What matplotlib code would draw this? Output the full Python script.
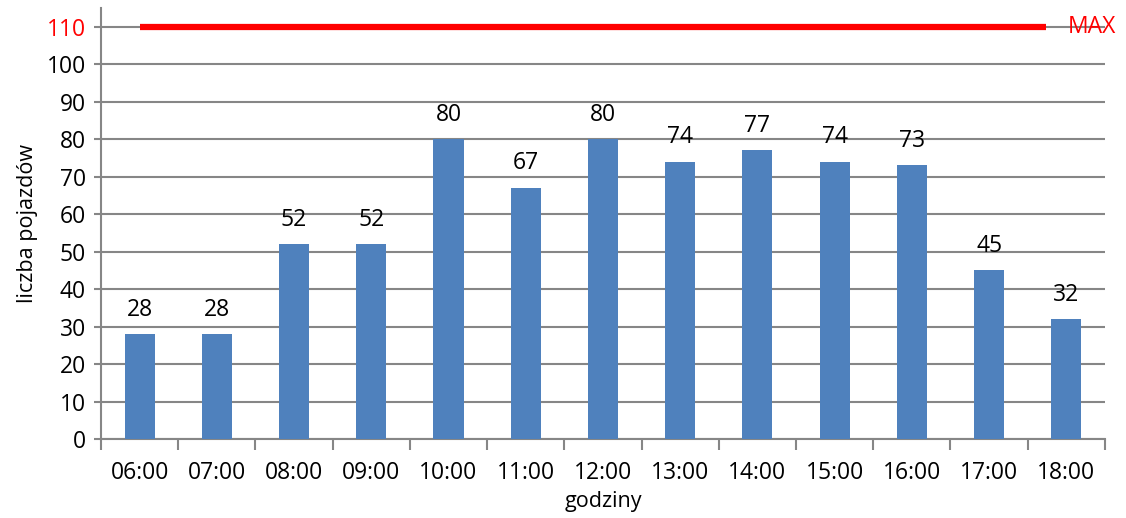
import matplotlib.pyplot as plt
import numpy as np

hours = ['06:00', '07:00', '08:00', '09:00', '10:00', '11:00', '12:00',
         '13:00', '14:00', '15:00', '16:00', '17:00', '18:00']
vehicles = [28, 28, 52, 52, 80, 67, 80, 74, 77, 74, 73, 45, 32]
max_value = 110
y_ticks = [0, 10, 20, 30, 40, 50, 60, 70, 80, 90, 100, 110]

plt.rcParams['font.family'] = ['Open Sans', 'DejaVu Sans']

fig = plt.figure(figsize=(11.26, 5.18), dpi=100)
ax = fig.add_axes([0.0897, 0.1525, 0.8916, 0.8321])

x = np.arange(len(hours))
bars = ax.bar(x, vehicles, width=0.39, color='#4F81BD', zorder=3)

# data labels above each bar
for xi, v in zip(x, vehicles):
    ax.annotate(str(v), (xi, v), xytext=(0, 9), textcoords='offset points',
                ha='center', va='bottom', fontsize=16.5, color='black')

# MAX line
ax.plot([0, 11.74], [max_value, max_value], color='#FF0000', lw=4.5,
        solid_capstyle='butt', zorder=4)
ax.text(12.02, max_value, 'MAX', color='#FF0000', fontsize=16.5,
        va='center', ha='left')

ax.set_xlim(-0.5, len(hours) - 0.5)
ax.set_ylim(0, 115)
ax.set_yticks(y_ticks)
ax.set_yticklabels([str(t) for t in y_ticks])
ax.get_yticklabels()[-1].set_color('#FF0000')

ax.set_xticks(x)
ax.set_xticklabels(hours)
ax.set_xticks(np.arange(-0.5, len(hours)), minor=True)
ax.tick_params(axis='x', which='major', length=0, pad=16, labelsize=16.5)
ax.tick_params(axis='x', which='minor', length=8, width=1.5, color='#868686',
               direction='out')
ax.tick_params(axis='y', length=5, width=1.5, color='#868686', labelsize=16.5, pad=6)

ax.grid(axis='y', color='#868686', lw=1.5, zorder=0)
ax.set_axisbelow(True)
for s in ['top', 'right']:
    ax.spines[s].set_visible(False)
for s in ['left', 'bottom']:
    ax.spines[s].set_color('#868686')
    ax.spines[s].set_linewidth(1.5)

ax.set_ylabel('liczba pojazdów', fontsize=15.5, labelpad=6)
ax.set_xlabel('godziny', fontsize=15.5, labelpad=4)

fig.savefig('out.png', dpi=100)
